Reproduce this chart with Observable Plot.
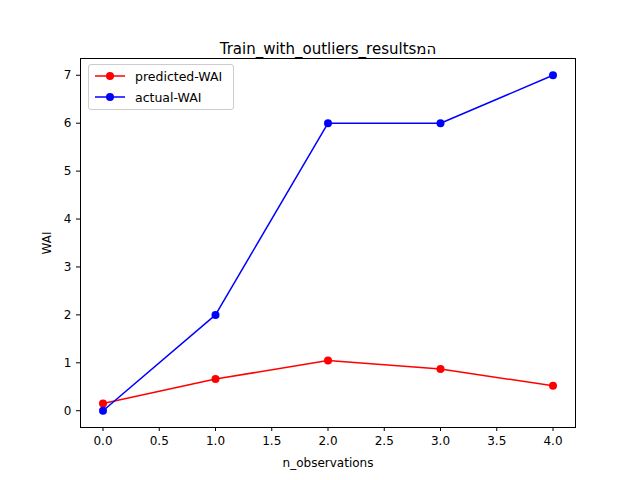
<!DOCTYPE html>
<html><head><meta charset="utf-8">
<script src="https://cdn.jsdelivr.net/npm/d3@7"></script>
<script src="https://cdn.jsdelivr.net/npm/@observablehq/plot@0.6"></script>
<style>
body{margin:0;background:#fff;font-family:"DejaVu Sans",sans-serif}
#wrap{position:relative;width:640px;height:480px}
#legend{position:absolute;left:88px;top:64px;width:144px;height:44px;border:1px solid #ccc;border-radius:3px;background:#fff;font-size:12.5px}
.item{position:absolute;left:6px;height:20px;display:flex;align-items:center}
.item svg{margin-right:10px}
</style></head><body>
<div id="wrap"><div id="chart"></div>
<div id="legend">
<div class="item" style="top:1px"><svg width="30" height="10"><line x1="0" x2="30" y1="5" y2="5" stroke="red" stroke-width="1.5"/><circle cx="15" cy="5" r="4" fill="red"/></svg>predicted-WAI</div>
<div class="item" style="top:22px"><svg width="30" height="10"><line x1="0" x2="30" y1="5" y2="5" stroke="blue" stroke-width="1.5"/><circle cx="15" cy="5" r="4" fill="blue"/></svg>actual-WAI</div>
</div></div>
<script>
const obs = [0, 1, 2, 3, 4]
const predicted = [0.15, 0.66, 1.05, 0.87, 0.52]
const actual = [0, 2, 6, 6, 7]
const title = "Train_with_outliers_resultsמה"

const pred = obs.map((x, i) => ({x, y: predicted[i]}))
const act = obs.map((x, i) => ({x, y: actual[i]}))

let chart = Plot.plot({
  width: 640, height: 480,
  marginLeft: 80, marginRight: 65, marginTop: 58, marginBottom: 53,
  style: {fontFamily: "DejaVu Sans", fontSize: "12px", color: "black"},
  x: {domain: [-0.2, 4.2], ticks: d3.range(0, 4.01, 0.5), tickFormat: d3.format(".1f"), label: "n_observations", labelAnchor: "center", labelArrow: "none", labelOffset: 39, tickSize: 4},
  y: {domain: [-0.35, 7.35], ticks: d3.range(0, 8), label: "WAI", labelAnchor: "center", labelArrow: "none", labelOffset: 38, tickSize: 4},
  marks: [
    Plot.frame({stroke: "black"}),
    Plot.line(pred, {x: "x", y: "y", stroke: "red", strokeWidth: 1.5}),
    Plot.dot(pred, {x: "x", y: "y", fill: "red", r: 4}),
    Plot.line(act, {x: "x", y: "y", stroke: "blue", strokeWidth: 1.5}),
    Plot.dot(act, {x: "x", y: "y", fill: "blue", r: 4}),
    Plot.text([title], {frameAnchor: "top", dy: -15, fontSize: 15, text: d => d})
  ]
})
d3.select(chart).selectAll("text").filter(function(){return this.textContent === title})
  .style("unicode-bidi", "bidi-override").attr("direction", "ltr")
d3.select('#chart').append(() => chart)
</script></body></html>
